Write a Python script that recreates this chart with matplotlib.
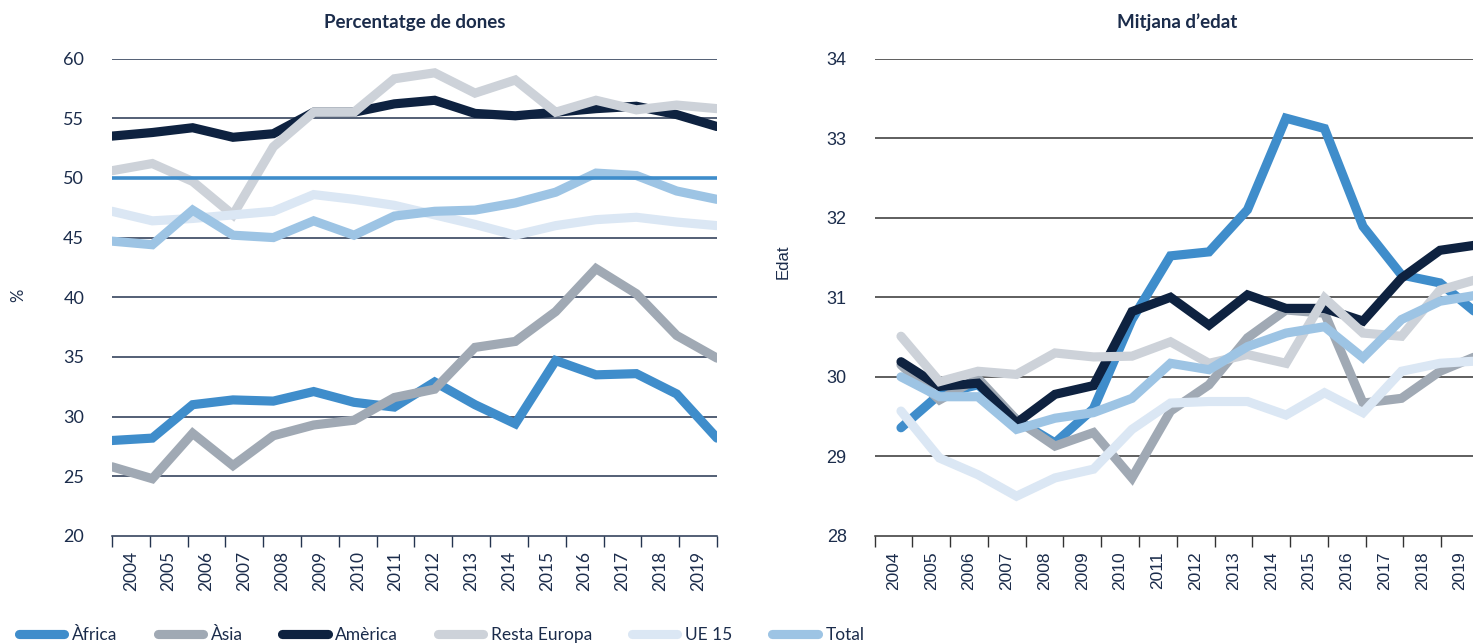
import matplotlib
matplotlib.use("Agg")
import matplotlib.pyplot as plt

years = [str(y) for y in range(2004, 2020)]
series_names = ["Àfrica", "Àsia", "Amèrica", "Resta Europa", "UE 15", "Total"]
colors = ["#3F8DCB", "#A0A9B4", "#0E2240", "#CDD2D9", "#DBE7F4", "#9DC4E4"]

# Percentatge de dones (%)
dones_africa = [28.0, 28.2, 31.0, 31.4, 31.3, 32.1, 31.2, 30.8, 32.9, 31.0, 29.4, 34.7, 33.5, 33.6, 31.9, 28.2]
dones_asia = [25.8, 24.8, 28.6, 25.9, 28.4, 29.3, 29.7, 31.6, 32.3, 35.8, 36.3, 38.8, 42.4, 40.3, 36.8, 34.9]
dones_america = [53.5, 53.8, 54.2, 53.4, 53.7, 55.5, 55.5, 56.2, 56.5, 55.4, 55.2, 55.5, 55.8, 56.0, 55.3, 54.3]
dones_resta = [50.6, 51.2, 49.7, 46.9, 52.6, 55.5, 55.5, 58.3, 58.8, 57.1, 58.2, 55.5, 56.5, 55.7, 56.1, 55.8]
dones_ue15 = [47.2, 46.4, 46.6, 46.9, 47.2, 48.6, 48.2, 47.7, 46.9, 46.1, 45.2, 46.0, 46.5, 46.7, 46.3, 46.0]
dones_total = [44.7, 44.4, 47.3, 45.2, 45.0, 46.4, 45.2, 46.8, 47.2, 47.3, 47.9, 48.8, 50.4, 50.2, 48.9, 48.2]
paritat = 50

# Mitjana d'edat
edat_africa = [29.36, 29.78, 29.9, 29.46, 29.17, 29.6, 30.72, 31.52, 31.57, 32.1, 33.25, 33.12, 31.89, 31.28, 31.18, 30.78]
edat_asia = [30.15, 29.71, 29.98, 29.46, 29.13, 29.3, 28.73, 29.57, 29.9, 30.49, 30.84, 30.8, 29.67, 29.73, 30.07, 30.27]
edat_america = [30.19, 29.88, 29.92, 29.42, 29.78, 29.89, 30.82, 31.0, 30.65, 31.03, 30.86, 30.86, 30.7, 31.24, 31.59, 31.66]
edat_resta = [30.51, 29.94, 30.07, 30.03, 30.3, 30.25, 30.26, 30.44, 30.17, 30.28, 30.17, 30.99, 30.55, 30.51, 31.09, 31.23]
edat_ue15 = [29.57, 28.98, 28.77, 28.5, 28.73, 28.84, 29.34, 29.67, 29.69, 29.69, 29.52, 29.8, 29.55, 30.07, 30.17, 30.2]
edat_total = [30.0, 29.75, 29.75, 29.34, 29.48, 29.55, 29.73, 30.17, 30.09, 30.38, 30.55, 30.63, 30.24, 30.72, 30.95, 31.03]

dones = [dones_africa, dones_asia, dones_america, dones_resta, dones_ue15, dones_total]
edat = [edat_africa, edat_asia, edat_america, edat_resta, edat_ue15, edat_total]

text_col = "#1B2C4B"
W, H = 1473, 643
fig = plt.figure(figsize=(W / 100, H / 100), dpi=100)

ax1 = fig.add_axes([112 / W, (H - 536) / H, 605 / W, 477.5 / H])
ax2 = fig.add_axes([874.5 / W, (H - 536) / H, 604.5 / W, 477.5 / H])

x = list(range(len(years)))


def style_axis(ax, xlo, xhi, ylo, yhi, ystep, grid_col, xfont, yfont):
    n = len(years)
    ax.set_xlim(xlo, xhi)
    ax.set_ylim(ylo, yhi)
    step = (xhi - xlo) / n
    ax.set_xticks([xlo + k * step for k in range(n + 1)])
    ax.set_xticklabels([])
    ax.set_xticks([xlo + (k + 0.5) * step for k in range(n)], minor=True)
    ax.set_xticklabels(years, minor=True, rotation=90, fontsize=12.5,
                       color=text_col, family=xfont, va="top", ha="center")
    ax.tick_params(axis="x", which="major", length=8, width=1, color=grid_col, direction="out")
    ax.tick_params(axis="x", which="minor", length=0, pad=11)
    yt = []
    v = ylo
    while v <= yhi + 1e-9:
        yt.append(v)
        v += ystep
    ax.set_yticks(yt)
    ax.set_yticklabels([f"{t:g}" for t in yt], fontsize=13, color=text_col, family=yfont)
    ax.tick_params(axis="y", length=0, pad=20)
    for t in yt[1:]:
        ax.axhline(t, color=grid_col, lw=1.1, zorder=1)
    for s in ["top", "left", "right"]:
        ax.spines[s].set_visible(False)
    ax.spines["bottom"].set_color(grid_col)
    ax.spines["bottom"].set_linewidth(1.1)


for vals, name, c in zip(dones, series_names, colors):
    ax1.plot(x, vals, color=c, lw=6.6, solid_capstyle="round",
             solid_joinstyle="miter", label=name, zorder=3)
ax1.axhline(paritat, color=colors[0], lw=2.6, zorder=4)
style_axis(ax1, 0, 15, 20, 60, 5, "#24344F", "Lato", "Lato")
ax1.set_title("Percentatge de dones", fontsize=13.5, fontweight="bold",
              family="Lato", color=text_col, pad=22)

for vals, name, c in zip(edat, series_names, colors):
    ax2.plot(x, vals, color=c, lw=6.6, solid_capstyle="round",
             solid_joinstyle="miter", zorder=3)
style_axis(ax2, -0.688, 15.013, 28, 34, 1, "#333333",
           "Liberation Sans", ["Liberation Sans Narrow", "Liberation Sans"])
ax2.set_title("Mitjana d\u2019edat", fontsize=13.5, fontweight="bold",
              family="Lato", color=text_col, pad=22)

fig.text(18 / W, 1 - 295 / H, "%", rotation=90, fontsize=12, family="Lato",
         color=text_col, ha="center", va="center")
fig.text(783 / W, 1 - 262 / H, "Edat", rotation=90, fontsize=12,
         family="Liberation Sans", color=text_col, ha="center", va="center")

handles, labels = ax1.get_legend_handles_labels()
fig.legend(handles, labels, loc="lower left", bbox_to_anchor=(0.006, -0.016),
           ncol=6, frameon=False, prop={"family": "Lato", "size": 12.5},
           labelcolor=text_col, handlelength=2.6, handletextpad=0.45,
           columnspacing=2.3, borderaxespad=0.2)

fig.savefig("out.png", dpi=100)
